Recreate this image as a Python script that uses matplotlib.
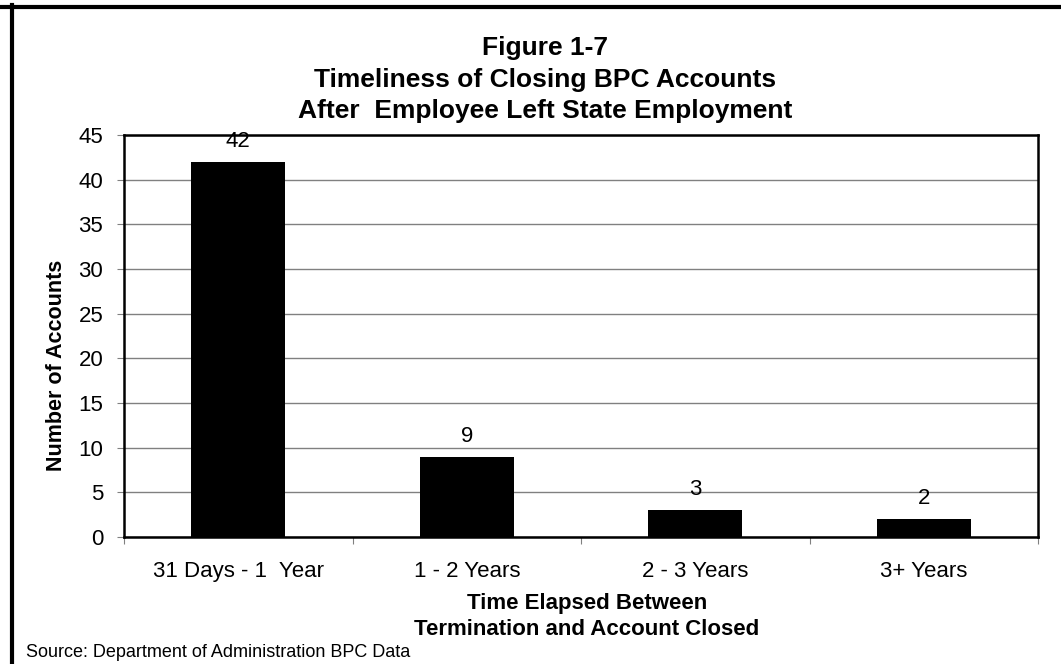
import matplotlib
matplotlib.use("Agg")
import matplotlib.pyplot as plt
from matplotlib.lines import Line2D

categories = ["31 Days - 1  Year", "1 - 2 Years", "2 - 3 Years", "3+ Years"]
accounts = [42, 9, 3, 2]
y_ticks = [0, 5, 10, 15, 20, 25, 30, 35, 40, 45]

title_lines = ["Figure 1-7", "Timeliness of Closing BPC Accounts", "After  Employee Left State Employment"]
x_label_lines = ["Time Elapsed Between", "Termination and Account Closed"]
y_label = "Number of Accounts"
source = "Source: Department of Administration BPC Data"

plt.rcParams['font.family'] = ['Liberation Sans', 'DejaVu Sans']

W, H = 1061, 664
fig = plt.figure(figsize=(W / 100, H / 100), dpi=100)
ax = fig.add_axes([124 / W, 1 - 537 / H, (1038 - 124) / W, (537 - 135) / H])

x = list(range(len(categories)))
ax.bar(x, accounts, width=0.41, color="black", zorder=3)
ax.set_xlim(-0.5, len(categories) - 0.5)
ax.set_ylim(0, 45)
ax.set_yticks(y_ticks)
ax.set_yticklabels([str(v) for v in y_ticks], fontsize=16)
ax.yaxis.grid(True, color="#808080", linewidth=1.0, zorder=0)
ax.set_axisbelow(True)

ax.set_xticks([i - 0.5 for i in range(len(categories) + 1)])
ax.set_xticklabels([])
ax.set_xticks(x, minor=True)
ax.set_xticklabels(categories, minor=True, fontsize=16)
ax.tick_params(axis="x", which="minor", length=0, pad=17)
ax.tick_params(axis="x", which="major", length=5, color="#808080")
ax.tick_params(axis="y", length=5, color="#808080", pad=10)

for s in ax.spines.values():
    s.set_linewidth(1.8)
    s.set_color("black")

for xi, v in zip(x, accounts):
    ax.annotate(str(v), (xi, v), xytext=(0, 7), textcoords="offset points",
                ha="center", va="bottom", fontsize=16)

tc = 545 / W
for txt, yb in zip(title_lines, [55, 87, 118]):
    fig.text(tc, 1 - yb / H, txt, ha="center", va="baseline", fontsize=19, fontweight="bold")

xc = 587 / W
for txt, yb in zip(x_label_lines, [609, 635]):
    fig.text(xc, 1 - yb / H, txt, ha="center", va="baseline", fontsize=16, fontweight="bold")

fig.text(57 / W, 1 - 365 / H, y_label, ha="center", va="center", rotation=90,
         fontsize=15.5, fontweight="bold")
fig.text(26 / W, 1 - 657 / H, source, ha="left", va="baseline", fontsize=13)

fig.add_artist(Line2D([0, 1], [1 - 6.5 / H, 1 - 6.5 / H], transform=fig.transFigure,
                      color="black", linewidth=3))
fig.add_artist(Line2D([12 / W, 12 / W], [0, 1 - 5 / H], transform=fig.transFigure,
                      color="black", linewidth=3))

fig.savefig("out.png", dpi=100)
